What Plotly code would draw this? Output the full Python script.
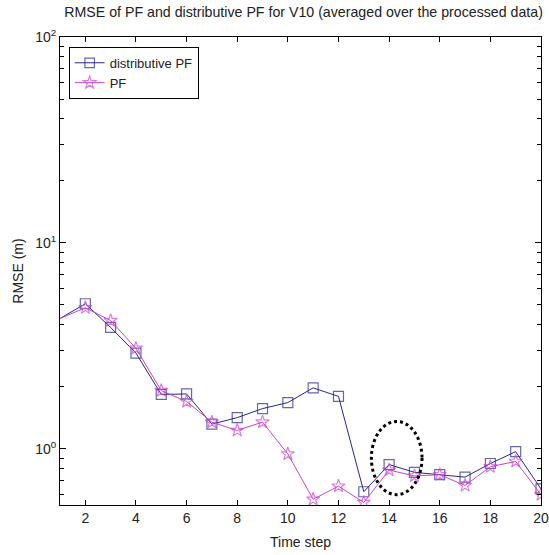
import plotly.graph_objects as go

time_step = list(range(1, 21))
dist_pf = [4.3, 5.07, 3.89, 2.92, 1.84, 1.85, 1.32, 1.42, 1.57, 1.68,
           1.98, 1.80, 0.62, 0.84, 0.77, 0.75, 0.73, 0.85, 0.97, 0.64]
pf = [4.3, 4.85, 4.2, 3.08, 1.92, 1.70, 1.35, 1.23, 1.35, 0.945,
      0.57, 0.66, 0.55, 0.79, 0.74, 0.75, 0.665, 0.82, 0.87, 0.60]
x_ticks = [2, 4, 6, 8, 10, 12, 14, 16, 18, 20]
y_ticks = [1, 10, 100]
y_ticktext = ["10<sup>0</sup>", "10<sup>1</sup>", "10<sup>2</sup>"]

FONT = "Liberation Sans, Arial"
BLUE = "#26268c"
MAG = "#cc44cc"

def sizes(n, s):
    return [0] + [s] * (n - 1)

fig = go.Figure()
fig.add_trace(go.Scatter(
    x=time_step, y=dist_pf, name="distributive PF", mode="lines+markers",
    line=dict(color=BLUE, width=1),
    marker=dict(symbol="square-open", size=sizes(len(time_step), 10),
                color=BLUE, line=dict(width=1.2)),
))
fig.add_trace(go.Scatter(
    x=time_step, y=pf, name="PF", mode="lines+markers",
    line=dict(color=MAG, width=1),
    marker=dict(symbol="star-open", size=sizes(len(time_step), 10),
                color=MAG, line=dict(width=1.2)),
))

fig.add_shape(type="circle", xref="x", yref="y",
              x0=13.3, x1=15.3, y0=0.60, y1=1.36,
              line=dict(color="black", width=3, dash="dot"))

minor_vals = [0.6, 0.7, 0.8, 0.9] + list(range(2, 10)) + [20, 30, 40, 50, 60, 70, 80, 90]

fig.update_layout(
    width=549, height=555,
    margin=dict(l=60, r=8, t=37, b=50),
    paper_bgcolor="white", plot_bgcolor="white",
    font=dict(family=FONT, size=13, color="#222"),
    title=dict(text="RMSE of PF and distributive PF for V10 (averaged over the processed data)",
               x=0.553, xanchor="center", y=0.978, yanchor="middle",
               font=dict(family=FONT, size=14.2, color="#222")),
    showlegend=True,
    legend=dict(x=0.018, y=0.979, xanchor="left", yanchor="top",
                bordercolor="black", borderwidth=1, bgcolor="white",
                font=dict(family=FONT, size=13, color="#222"),
                tracegroupgap=0, itemwidth=30),
    xaxis=dict(range=[1, 20], tickvals=x_ticks, ticks="inside", ticklen=5,
               automargin=False,
               showgrid=False, zeroline=False, showline=True, linecolor="black",
               linewidth=1, mirror="ticks", tickcolor="black",
               ticklabeloverflow="allow",
               tickfont=dict(family=FONT, size=14, color="#222"),
               title=dict(text="Time step", font=dict(family=FONT, size=14, color="#222"),
                          standoff=12)),
    yaxis=dict(type="log", range=[-0.272, 2], tickvals=y_ticks, ticktext=y_ticktext,
               automargin=False,
               ticks="inside", ticklen=6, showgrid=False, zeroline=False,
               showline=True, linecolor="black", linewidth=1, mirror="ticks",
               tickcolor="black",
               tickfont=dict(family=FONT, size=14, color="#222"),
               minor=dict(tickvals=minor_vals, ticks="inside", ticklen=4,
                          tickcolor="black", showgrid=False),
               title=dict(text="RMSE (m)", font=dict(family=FONT, size=14, color="#222"),
                          standoff=8)),
)

fig.write_html("out.html")
